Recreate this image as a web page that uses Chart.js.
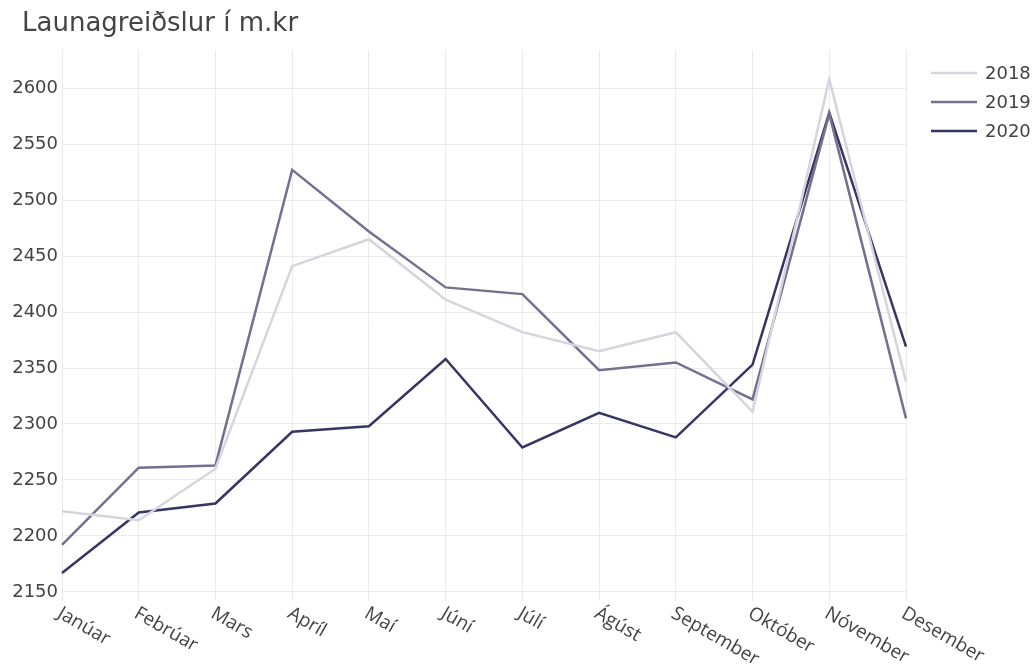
<!DOCTYPE html>
<html lang="is">
<head>
<meta charset="UTF-8">
<title>Launagreiðslur</title>
<script src="https://cdn.jsdelivr.net/npm/chart.js"></script>
<style>
  body { margin: 0; background: #fff; }
  #wrap { width: 1035px; height: 670px; }
</style>
</head>
<body>
<div id="wrap"><canvas id="myChart" width="1035" height="670"></canvas></div>
<script>
const chartTitle = 'Launagreiðslur í m.kr';
const months = ['Janúar', 'Febrúar', 'Mars', 'Apríl', 'Maí', 'Júní', 'Júlí', 'Ágúst', 'September', 'Október', 'Nóvember', 'Desember'];
const years = ['2018', '2019', '2020'];
const pay2018 = [2222, 2214, 2260, 2441, 2465, 2411, 2382, 2365, 2382, 2311, 2608, 2338];
const pay2019 = [2192, 2261, 2263, 2527, 2472, 2422, 2416, 2348, 2355, 2322, 2577, 2305];
const pay2020 = [2167, 2221, 2229, 2293, 2298, 2358, 2279, 2310, 2288, 2353, 2578, 2369];
const yTicks = [2150, 2200, 2250, 2300, 2350, 2400, 2450, 2500, 2550, 2600];

const colors = ['#d6d4df', '#75708f', '#373563'];
const sansWide = '"DejaVu Sans", Verdana, sans-serif';
const sansRound = '"Open Sans", sans-serif';
const textCol = '#444';

function line(label, values, color) {
  return {
    label: label,
    data: values,
    borderColor: color,
    backgroundColor: color,
    borderWidth: 2.5,
    pointRadius: 0,
    tension: 0,
    fill: false
  };
}

// title, rotated month labels and legend, plotly style
const extras = {
  id: 'extras',
  afterDraw(chart) {
    const c = chart.ctx;
    const xs = chart.scales.x;
    c.save();
    c.fillStyle = textCol;
    c.font = '26px ' + sansWide;
    c.textAlign = 'left';
    c.textBaseline = 'middle';
    c.fillText(chartTitle, 22, 24);

    c.font = '19px ' + sansRound;
    months.forEach((m, i) => {
      const x = xs.getPixelForValue(i);
      c.save();
      c.translate(x - 3, 612);
      c.rotate(30 * Math.PI / 180);
      c.textAlign = 'left';
      c.textBaseline = 'middle';
      c.fillText(m, 0, 0);
      c.restore();
    });

    c.font = '18px ' + sansWide;
    chart.data.datasets.forEach((ds, i) => {
      const y = 73 + i * 29;
      c.strokeStyle = ds.borderColor;
      c.lineWidth = 2.5;
      c.beginPath();
      c.moveTo(931, y);
      c.lineTo(977, y);
      c.stroke();
      c.fillStyle = textCol;
      c.textAlign = 'left';
      c.textBaseline = 'middle';
      c.fillText(ds.label, 985, y + 1);
    });
    c.restore();
  }
};

const ctx = document.getElementById('myChart');
new Chart(ctx, {
  type: 'line',
  data: {
    labels: months,
    datasets: [
      line(years[0], pay2018, colors[0]),
      line(years[1], pay2019, colors[1]),
      line(years[2], pay2020, colors[2])
    ]
  },
  options: {
    responsive: false,
    animation: false,
    layout: { padding: { top: 50, right: 129, left: 0, bottom: 0 } },
    plugins: {
      legend: { display: false },
      tooltip: { enabled: false }
    },
    scales: {
      x: {
        offset: false,
        grid: { color: '#ebebeb', lineWidth: 1, tickLength: 4 },
        border: { display: false },
        ticks: { display: false },
        afterFit(s) { s.height = 73; }
      },
      y: {
        min: 2145.5,
        max: 2634,
        grid: { color: '#ebebeb', lineWidth: 1, drawTicks: false },
        border: { display: false },
        ticks: {
          color: textCol,
          padding: 4,
          font: { family: sansWide, size: 18 },
          callback: v => String(v)
        },
        afterBuildTicks(s) { s.ticks = yTicks.map(v => ({ value: v })); },
        afterFit(s) { s.width = 62; }
      }
    }
  },
  plugins: [extras]
});
</script>
</body>
</html>
